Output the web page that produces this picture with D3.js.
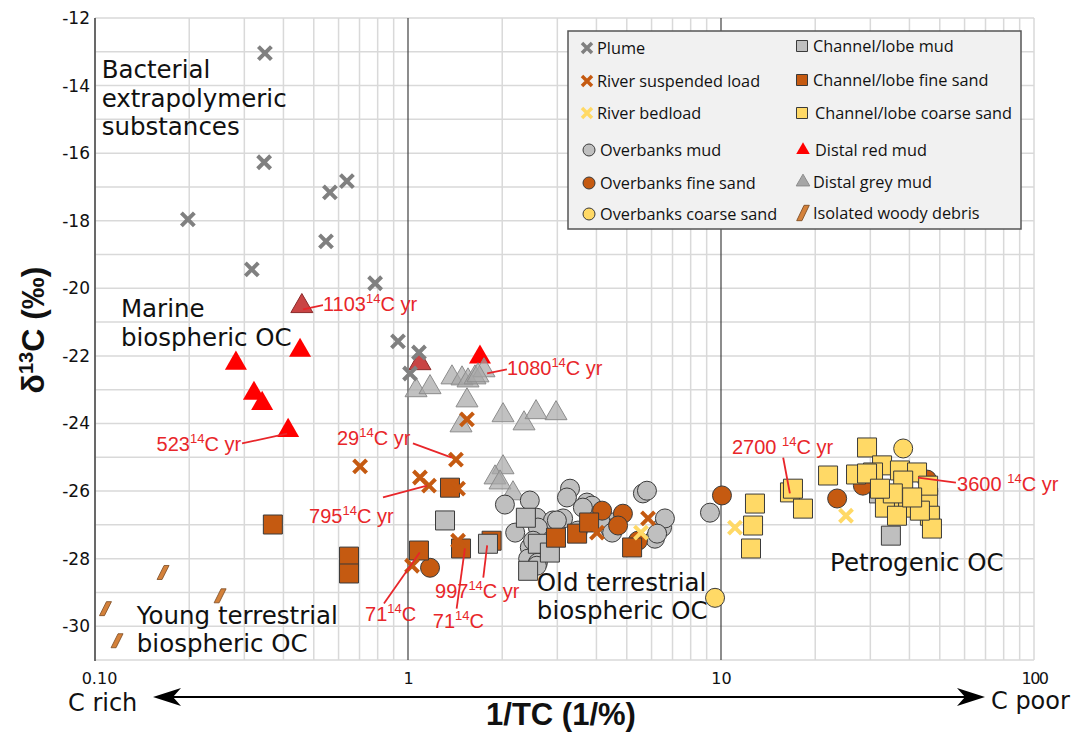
<!DOCTYPE html>
<html><head><meta charset="utf-8">
<script src="https://cdn.jsdelivr.net/npm/d3@7/dist/d3.min.js"></script>
<style>
body{margin:0;background:#fff;}
svg{display:block;}
text{white-space:pre;}
</style></head><body>
<svg id="chart" width="1087" height="732"></svg>
<script>
// ---------- DATA (x = 1/TC in 1/%, y = δ13C in ‰) ----------
const plume = [[0.349,-13.04],[0.347,-16.27],[0.198,-17.96],[0.563,-17.16],[0.638,-16.83],[0.547,-18.61],[0.317,-19.44],[0.785,-19.85],[0.929,-21.57],[1.084,-21.9],[1.015,-22.52]];
const riverSuspended = [[0.703,-25.27],[1.423,-25.07],[1.543,-23.88],[1.092,-25.6],[1.167,-25.84],[1.445,-27.47],[1.03,-28.21],[4.016,-27.23],[5.846,-26.81],[1.445,-25.93]];
const riverBedload = [[5.55,-27.23],[11.08,-27.08],[25.08,-26.73]];
const overbanksMud = [[3.293,-25.93],[3.22,-26.19],[3.73,-26.34],[3.87,-26.43],[2.04,-26.4],[2.45,-26.28],[2.58,-26.79],[2.20,-27.23],[2.905,-26.87],[3.13,-26.81],[5.63,-26.07],[5.80,-25.99],[6.15,-27.41],[6.48,-27.08],[6.62,-26.81],[6.25,-27.26],[2.45,-27.67],[2.42,-28.0],[2.60,-28.12],[2.60,-27.08],[2.51,-27.47],[2.58,-28.21],[2.99,-26.87],[3.62,-26.49],[4.52,-26.93],[3.49,-27.17],[4.42,-27.11],[9.22,-26.64],[4.11,-26.87],[4.49,-27.23]];
const overbanksFine = [[1.176,-28.27],[4.17,-26.58],[4.86,-26.67],[4.69,-27.02],[5.43,-27.47],[10.07,-26.13],[23.5,-26.22],[28.4,-25.84],[45.5,-25.66]];
const overbanksCoarse = [[9.57,-29.16],[38.2,-24.74]];
const channelMud = [[1.313,-26.87],[2.38,-26.79],[2.60,-27.56],[2.84,-27.82],[2.42,-28.36],[31.98,-26.07],[34.9,-27.32]];
const channelFine = [[0.370,-26.99],[0.648,-27.94],[0.648,-28.44],[1.362,-25.9],[1.084,-27.76],[1.477,-27.70],[1.85,-27.47],[2.97,-27.38],[3.47,-27.26],[3.79,-26.93],[5.20,-27.67]];
const channelMudFront = [[1.801,-27.56]];
const channelCoarse = [[12.84,-26.37],[12.66,-27.02],[12.47,-27.7],[16.61,-26.04],[16.98,-25.93],[18.28,-26.52],[21.98,-25.54],[29.28,-24.71],[27.0,-25.51],[32.7,-25.24],[30.6,-25.45],[37.3,-25.39],[42.3,-25.45],[38.2,-25.69],[29.28,-25.48],[35.2,-26.28],[39.6,-26.49],[45.9,-26.19],[46.5,-26.73],[47.2,-27.11],[33.4,-26.49],[36.5,-26.73],[43.2,-26.58],[45.9,-25.84],[40.8,-26.19],[35.4,-26.07],[32.2,-25.93]];
const distalRed = [[0.452,-21.84],[0.282,-22.22],[0.322,-23.11],[0.342,-23.41],[0.414,-24.21],[1.698,-22.04]];
const distalRedDated = [[0.458,-20.53],[1.092,-22.22]];
const distalGrey = [[1.382,-22.64],[1.488,-22.67],[1.555,-22.73],[1.637,-22.64],[1.749,-22.43],[1.673,-22.58],[1.061,-23.02],[1.176,-22.93],[1.543,-23.32],[1.477,-24.06],[2.012,-23.76],[2.348,-24.0],[2.565,-23.67],[2.971,-23.70],[2.012,-25.3],[1.897,-25.6],[1.968,-25.75],[2.165,-26.07]];
const woodyDebris = [[0.165,-28.41],[0.251,-29.1],[0.108,-29.48],[0.1176,-30.43]];

const xTickValues = [0.1, 1, 10, 100];
const xTickLabels = ["0.10", "1", "10", "100"];
const yTickValues = [-12,-14,-16,-18,-20,-22,-24,-26,-28,-30];
const yTickLabels = ["-12","-14","-16","-18","-20","-22","-24","-26","-28","-30"];

// annotations: [main, sup, rest, textX, textY, anchor, lineX1, lineY1, lineX2, lineY2]
const annotations = [
  ["1103","14","C yr",0.535,-20.68,"start",0.462,-20.62,0.535,-20.50],
  ["1080","14","C yr",2.07,-22.58,"start",1.79,-22.52,2.07,-22.40],
  ["523","14","C yr",0.293,-24.8,"end",0.295,-24.59,0.411,-24.30],
  ["29","14","C yr",0.593,-24.65,"start",1.037,-24.59,1.38,-25.01],
  ["795","14","C yr",0.483,-26.96,"start",0.832,-26.19,1.15,-25.84],
  ["71","14","C",0.729,-29.84,"start",0.838,-29.33,1.09,-27.82],
  ["997","14","C yr",1.22,-29.16,"start",1.79,-27.61,1.74,-28.56],
  ["71","14","C",1.20,-30.04,"start",1.52,-27.70,1.43,-29.48],
  ["2700 ","14","C yr",10.84,-24.89,"start",15.8,-25.01,16.6,-26.07],
  ["3600 ","14","C yr",56.8,-25.99,"start",42.6,-25.6,56.3,-25.75]
];
// region labels: [lines, x, y of first baseline]
const regionLabels = [
  [["Bacterial","extrapolymeric","substances"],0.105,-13.78],
  [["Marine","biospheric OC"],0.121,-20.86],
  [["Young terrestrial","biospheric OC"],0.136,-29.93],
  [["Old terrestrial","biospheric OC"],2.58,-28.95],
  [["Petrogenic OC"],22.3,-28.36]
];
const legendCol1 = ["Plume","River suspended load","River bedload","Overbanks mud","Overbanks fine sand","Overbanks coarse sand"];
const legendCol2 = ["Channel/lobe mud","Channel/lobe fine sand","Channel/lobe coarse sand","Distal red mud","Distal grey mud","Isolated woody debris"];

// ---------- STYLES ----------
const C = {grey:"#808080", orange:"#c55a11", yellow:"#ffd966", mud:"#bfbfbf", edge:"#3a3a3a", red:"#ff0000", redDark:"#c63a3a", triGrey:"#a6a6a6", wood:"#d4813a"};

const svg = d3.select("#chart");
const x = d3.scaleLog().domain([0.1, 100]).range([95, 1034]);
const y = d3.scaleLinear().domain([-31, -12]).range([660, 18]);

// ---------- GRID ----------
const grid = svg.append("g");
grid.selectAll("line.h").data(d3.range(-31, -11)).join("line")
  .attr("x1", 95).attr("x2", 1034).attr("y1", d => y(d)).attr("y2", d => y(d))
  .attr("stroke", "#d9d9d9").attr("stroke-width", 1.5);
grid.selectAll("line.v").data(x.ticks()).join("line")
  .attr("x1", d => x(d)).attr("x2", d => x(d)).attr("y1", 18).attr("y2", 660)
  .attr("stroke", d => (d === 1 || d === 10) ? "#404040" : "#d9d9d9")
  .attr("stroke-width", d => (d === 1 || d === 10) ? 1.2 : 1.5);
svg.append("line").attr("x1", 95).attr("x2", 95).attr("y1", 18).attr("y2", 661)
  .attr("stroke", "#404040").attr("stroke-width", 1.5);

// ---------- AXES ----------
const xAxis = svg.append("g").attr("transform", "translate(0,660)")
  .call(d3.axisBottom(x).tickValues(xTickValues).tickFormat((d, i) => xTickLabels[i]).tickSize(0).tickPadding(13));
xAxis.select(".domain").remove();
xAxis.selectAll("text").attr("font-family", "DejaVu Sans").attr("font-size", 16).attr("fill", "#111");
xAxis.selectAll("text").filter((d) => d === 0.1).attr("dx", 4);
xAxis.selectAll("text").filter((d) => d === 100).attr("letter-spacing", -1.5);

const yAxis = svg.append("g").attr("transform", "translate(95,0)")
  .call(d3.axisLeft(y).tickValues(yTickValues).tickFormat((d, i) => yTickLabels[i]).tickSize(0).tickPadding(5));
yAxis.select(".domain").remove();
yAxis.selectAll("text").attr("font-family", "DejaVu Sans").attr("font-size", 17).attr("fill", "#111");

// axis titles
const yt = svg.append("text").attr("transform", "translate(44,330) rotate(-90)")
  .attr("text-anchor", "middle").attr("font-family", "Liberation Sans").attr("font-weight", "bold")
  .attr("font-size", 32).attr("fill", "#111");
yt.append("tspan").text("δ");
yt.append("tspan").attr("baseline-shift", "super").attr("font-size", 20).text("13");
yt.append("tspan").text("C (‰)");

svg.append("text").attr("x", 561).attr("y", 725).attr("text-anchor", "middle")
  .attr("font-family", "Liberation Sans").attr("font-weight", "bold").attr("font-size", 31).attr("fill", "#111")
  .text("1/TC (1/%)");

// arrow
svg.append("line").attr("x1", 170).attr("x2", 968).attr("y1", 697).attr("y2", 697)
  .attr("stroke", "#000").attr("stroke-width", 2);
svg.append("path").attr("d", "M153,697 L181,688 L173,697 L181,706 Z").attr("fill", "#000");
svg.append("path").attr("d", "M985,697 L957,688 L965,697 L957,706 Z").attr("fill", "#000");
svg.append("text").attr("x", 68).attr("y", 711).attr("font-family", "DejaVu Sans").attr("font-size", 24).attr("fill", "#111").text("C rich");
svg.append("text").attr("x", 991).attr("y", 709).attr("font-family", "DejaVu Sans").attr("font-size", 24).attr("fill", "#111").text("C poor");

// ---------- MARKERS ----------
const plot = svg.append("g");
function xPath(s) { return `M${-s},${-s}L${s},${s}M${-s},${s}L${s},${-s}`; }
const woodPath = "M-6,7L1,-7L6,-7L-1,7Z";
const tri = d3.symbol().type(d3.symbolTriangle);
const sq = d3.symbol().type(d3.symbolSquare);

function drawWood(g, data, scale) {
  g.selectAll(null).data(data).join("path")
    .attr("transform", d => `translate(${x(d[0])},${y(d[1])}) scale(${scale})`)
    .attr("d", woodPath).attr("fill", C.wood).attr("stroke", "#7a4a22").attr("stroke-width", 0.8);
}
function drawTri(g, data, size, fill, stroke, op) {
  g.selectAll(null).data(data).join("path")
    .attr("transform", d => `translate(${x(d[0])},${y(d[1])})`)
    .attr("d", tri.size(size)()).attr("fill", fill).attr("fill-opacity", op)
    .attr("stroke", stroke).attr("stroke-width", 1);
}
function drawCircle(g, data, r, fill) {
  g.selectAll(null).data(data).join("circle")
    .attr("cx", d => x(d[0])).attr("cy", d => y(d[1])).attr("r", r)
    .attr("fill", fill).attr("stroke", C.edge).attr("stroke-width", 1);
}
function drawSquare(g, data, size, fill) {
  g.selectAll(null).data(data).join("path")
    .attr("transform", d => `translate(${x(d[0])},${y(d[1])})`)
    .attr("d", sq.size(size)()).attr("fill", fill).attr("stroke", C.edge).attr("stroke-width", 1);
}
function drawX(g, data, s, color) {
  g.selectAll(null).data(data).join("path")
    .attr("transform", d => `translate(${x(d[0])},${y(d[1])})`)
    .attr("d", xPath(s)).attr("fill", "none").attr("stroke", color).attr("stroke-width", 4);
}

drawWood(plot.append("g"), woodyDebris, 1);
drawTri(plot.append("g"), distalRed, 210, C.red, "none", 1);
drawTri(plot.append("g"), distalRedDated, 210, C.redDark, "#8a2a2a", 0.95);
drawTri(plot.append("g"), distalGrey, 210, C.triGrey, "#8c8c8c", 0.7);
drawCircle(plot.append("g"), overbanksMud, 9.5, C.mud);
drawSquare(plot.append("g"), channelMud, 361, C.mud);
drawCircle(plot.append("g"), overbanksFine, 9.5, C.orange);
drawSquare(plot.append("g"), channelFine, 361, C.orange);
drawSquare(plot.append("g"), channelMudFront, 361, C.mud);
drawSquare(plot.append("g"), channelCoarse, 361, C.yellow);
drawCircle(plot.append("g"), overbanksCoarse, 9.5, C.yellow);
drawX(plot.append("g"), plume, 6.5, C.grey);
drawX(plot.append("g"), riverSuspended, 6.5, C.orange);
drawX(plot.append("g"), riverBedload, 6.5, C.yellow);

// ---------- ANNOTATIONS ----------
const ann = svg.append("g");
annotations.forEach(a => {
  ann.append("line").attr("x1", x(a[6])).attr("y1", y(a[7])).attr("x2", x(a[8])).attr("y2", y(a[9]))
    .attr("stroke", "#e8262a").attr("stroke-width", 1.8);
  const t = ann.append("text").attr("x", x(a[3])).attr("y", y(a[4])).attr("text-anchor", a[5])
    .attr("font-family", "Liberation Sans").attr("font-size", 20).attr("fill", "#e8262a");
  t.append("tspan").text(a[0]);
  t.append("tspan").attr("font-size", 13).attr("dy", -8).text(a[1]);
  t.append("tspan").attr("dy", 8).text(a[2]);
});

// ---------- REGION LABELS ----------
regionLabels.forEach(r => {
  const t = svg.append("text").attr("font-family", "DejaVu Sans").attr("font-size", 24.5).attr("fill", "#111");
  r[0].forEach((line, i) => {
    t.append("tspan").attr("x", x(r[1])).attr("y", y(r[2]) + i * 28.5).text(line);
  });
});

// ---------- LEGEND ----------
const lg = svg.append("g");
lg.append("rect").attr("x", 568).attr("y", 31).attr("width", 453).attr("height", 198)
  .attr("fill", "#f1f1f1").attr("stroke", "#555").attr("stroke-width", 1.5);
const row1 = [48, 81, 113, 150, 183, 214];
const row2 = [46, 80, 113, 150, 182, 213];
const lx = {sym1: 587, txt1: 597, sym2: 802, txt2: 813};
const legendFont = t => t.attr("font-family", "Open Sans").attr("font-size", 16.3).attr("fill", "#111").attr("dominant-baseline", "central");

function lSym(kind, cx, cy, color) {
  const g = lg.append("g").attr("transform", `translate(${cx},${cy})`);
  if (kind === "x") g.append("path").attr("d", xPath(5)).attr("stroke", color).attr("stroke-width", 3.5).attr("fill", "none");
  if (kind === "c") g.append("circle").attr("r", 6).attr("fill", color).attr("stroke", C.edge);
  if (kind === "s") g.append("path").attr("d", sq.size(121)()).attr("fill", color).attr("stroke", C.edge);
  if (kind === "t") g.append("path").attr("d", tri.size(80)()).attr("fill", color).attr("stroke", color === C.red ? "none" : "#8c8c8c");
  if (kind === "w") g.append("path").attr("d", woodPath).attr("transform", "scale(1.05,1.1)").attr("fill", C.wood).attr("stroke", "#7a4a22").attr("stroke-width", 0.8);
}
const col1Sym = [["x", C.grey], ["x", C.orange], ["x", C.yellow], ["c", C.mud], ["c", C.orange], ["c", C.yellow]];
const col2Sym = [["s", C.mud], ["s", C.orange], ["s", C.yellow], ["t", C.red], ["t", C.triGrey], ["w", C.wood]];
legendCol1.forEach((lab, i) => {
  const isX = col1Sym[i][0] === "x";
  lSym(col1Sym[i][0], isX ? lx.sym1 : lx.sym1 + 2, row1[i], col1Sym[i][1]);
  legendFont(lg.append("text").attr("x", isX ? lx.txt1 : lx.txt1 + 3).attr("y", row1[i])).text(lab);
});
legendCol2.forEach((lab, i) => {
  lSym(col2Sym[i][0], lx.sym2 + (i >= 3 ? 1 : 0), row2[i], col2Sym[i][1]);
  legendFont(lg.append("text").attr("x", lx.txt2 + (i === 2 || i === 3 ? 2 : 0)).attr("y", row2[i])).text(lab);
});
</script>
</body></html>
